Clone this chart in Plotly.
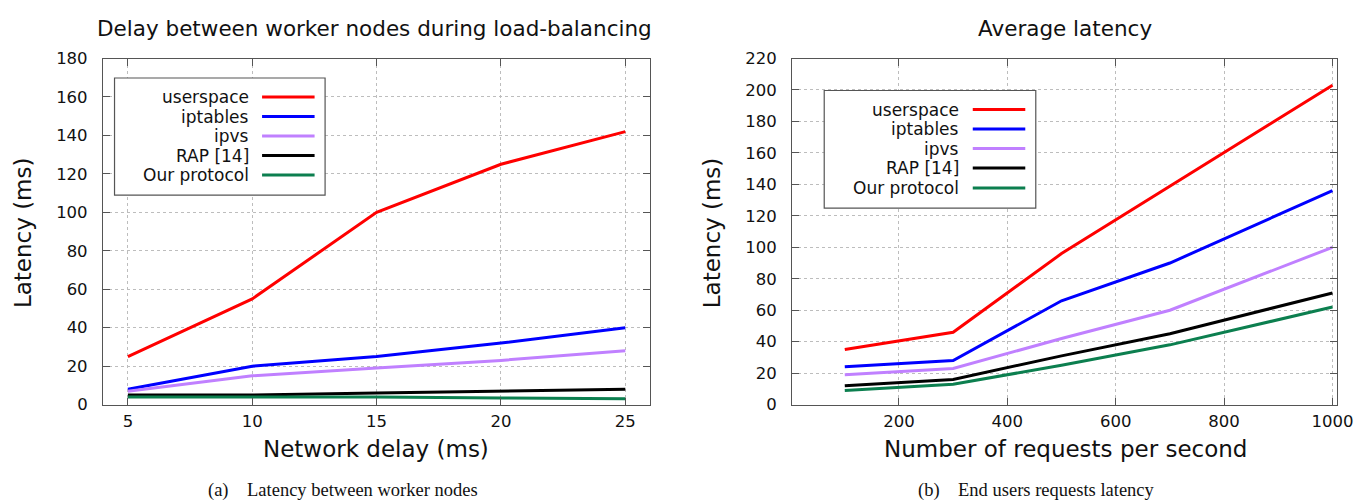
import plotly.graph_objects as go

W, H = 1364, 504

# ---------------- data ----------------
series_names = ["userspace", "iptables", "ipvs", "RAP [14]", "Our protocol"]
series_colors = ["#ff0000", "#0000ff", "#c080ff", "#000000", "#0c7f4f"]

# (a) Delay between worker nodes during load-balancing
delay_ms = [5, 10, 15, 20, 25]
a_userspace = [25, 55, 100, 125, 142]
a_iptables = [8, 20, 25, 32, 40]
a_ipvs = [7, 15, 19, 23, 28]
a_rap = [5, 5, 6, 7, 8]
a_ours = [4, 4, 4, 3.5, 3]

# (b) Average latency
requests = [100, 300, 500, 700, 1000]
b_userspace = [35, 46, 96, 139, 203]
b_iptables = [24, 28, 66, 90, 136]
b_ipvs = [19, 23, 42, 60, 100]
b_rap = [12, 16, 31, 45, 71]
b_ours = [9, 13, 25, 38, 62]

a_ticks = [5, 10, 15, 20, 25]
a_yticks = list(range(0, 181, 20))
b_ticks = [200, 400, 600, 800, 1000]
b_yticks = list(range(0, 221, 20))

title_a = "Delay between worker nodes during load-balancing"
title_b = "Average latency"
xlabel_a = "Network delay (ms)"
xlabel_b = "Number of requests per second"
ylabel = "Latency (ms)"
caption_a = "(a)\u2002\u2002Latency between worker nodes"
caption_b = "(b)\u2002\u2002End users requests latency"

# calibration of figure pixels -> photographed pixels (measured)
KX, OX = 0.988, 8.5
KY, OY = 0.962, 16.5


def px(x):
    return ((x - OX) / KX) / W


def py(y):
    return 1 - ((y - OY) / KY) / H


SANS = "DejaVu Sans"
SERIF = "Liberation Serif"

fig = go.Figure()

for name, color, ys in zip(series_names, series_colors,
                           [a_userspace, a_iptables, a_ipvs, a_rap, a_ours]):
    fig.add_trace(go.Scatter(x=delay_ms, y=ys, mode="lines", name=name,
                             line=dict(color=color, width=3),
                             xaxis="x", yaxis="y", showlegend=False))
for name, color, ys in zip(series_names, series_colors,
                           [b_userspace, b_iptables, b_ipvs, b_rap, b_ours]):
    fig.add_trace(go.Scatter(x=requests, y=ys, mode="lines", name=name,
                             line=dict(color=color, width=3),
                             xaxis="x2", yaxis="y2", showlegend=False))

# plot area boxes in target pixels
A_L, A_R = 103.5, 650.5
B_L, B_R = 792.5, 1337.5
TOP, BOT = 58, 404

axis_common = dict(
    showline=True, linecolor="#555555", linewidth=1.2, mirror="allticks",
    ticks="inside", ticklen=7, tickcolor="#555555", tickwidth=1.2,
    showgrid=True, gridcolor="#bdbdbd", griddash="dot", gridwidth=1,
    zeroline=False, tickfont=dict(family=SANS, size=16.5, color="#111111"),
)

fig.update_layout(
    width=W, height=H, autosize=False,
    margin=dict(l=0, r=0, t=0, b=0),
    paper_bgcolor="white", plot_bgcolor="white",
    showlegend=False,
    xaxis=dict(domain=[px(A_L), px(A_R)], range=[4, 26], tickvals=a_ticks,
               anchor="y", ticklabelstandoff=1, **axis_common),
    yaxis=dict(domain=[py(BOT), py(TOP)], range=[0, 180], tickvals=a_yticks,
               anchor="x", ticklabelstandoff=11, **axis_common),
    xaxis2=dict(domain=[px(B_L), px(B_R)], range=[3, 1009], tickvals=b_ticks,
                anchor="y2", ticklabelstandoff=1, **axis_common),
    yaxis2=dict(domain=[py(BOT), py(TOP)], range=[0, 220], tickvals=b_yticks,
                anchor="x2", ticklabelstandoff=11, **axis_common),
)

annotations = []
shapes = []


def text(x, y, s, size, family=SANS, xanchor="center", angle=0):
    annotations.append(dict(x=px(x), y=py(y), xref="paper", yref="paper",
                            text=s, showarrow=False, xanchor=xanchor,
                            yanchor="middle", textangle=angle,
                            font=dict(family=family, size=size, color="#111111")))


# titles (kept just inside the top edge of the page)
text(374.5, 28, title_a, 21.5)
text(1065, 28, title_b, 21.5)
# axis titles
text(376, 448, xlabel_a, 23)
text(1066, 448, xlabel_b, 23)
text(23, 232, ylabel, 23, angle=-90)
text(712, 232, ylabel, 23, angle=-90)
# captions
text(343, 490, caption_a, 18.5, family=SERIF)
text(1037, 490, caption_b, 18.5, family=SERIF)


def legend(box, text_right, samp, ys):
    x0, y0, x1, y1 = box
    shapes.append(dict(type="rect", xref="paper", yref="paper",
                       x0=px(x0), x1=px(x1), y0=py(y1), y1=py(y0),
                       line=dict(color="#555555", width=1.2),
                       fillcolor="white", layer="above"))
    for name, color, yy in zip(series_names, series_colors, ys):
        text(text_right, yy, name, 17, xanchor="right")
        shapes.append(dict(type="line", xref="paper", yref="paper",
                           x0=px(samp[0]), x1=px(samp[1]), y0=py(yy), y1=py(yy),
                           line=dict(color=color, width=3), layer="above"))


legend((115, 77.5, 325.5, 194.5), 251, (262.5, 315),
       [96.5, 116, 135.5, 155, 174.5])
legend((824.5, 90, 1036, 207.5), 961, (973, 1025.5),
       [109, 128.5, 148, 167.5, 187.5])

fig.update_layout(annotations=annotations, shapes=shapes)
fig.write_html("out.html")
